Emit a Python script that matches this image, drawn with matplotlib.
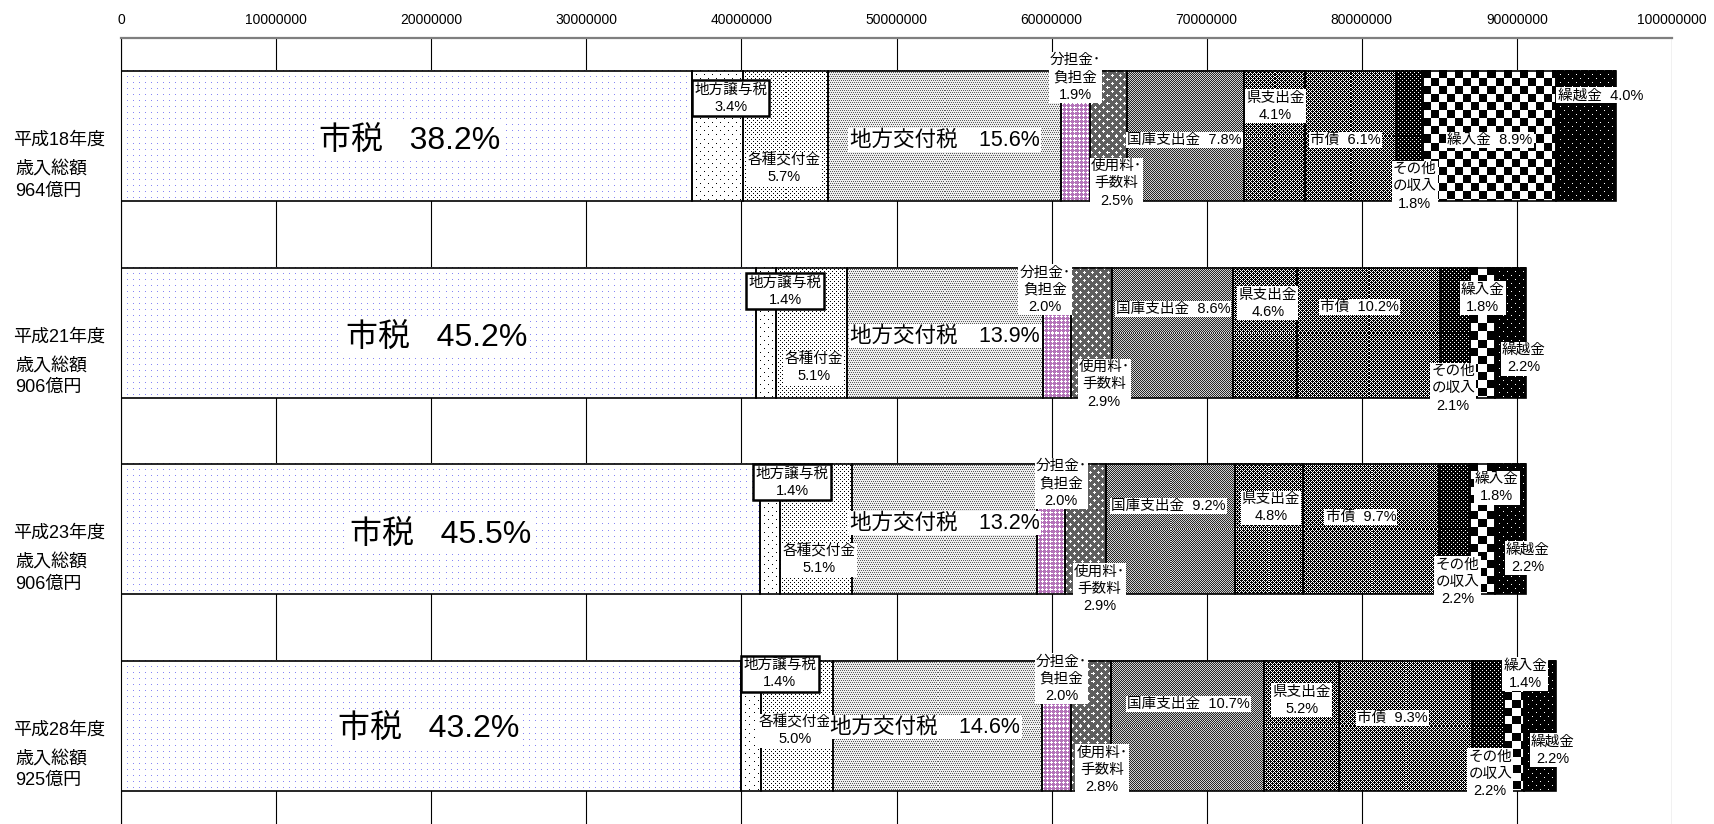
import numpy as np
import matplotlib
matplotlib.use("Agg")
import matplotlib.pyplot as plt
from matplotlib.ticker import FixedLocator, FuncFormatter

plt.rcParams['font.family'] = ['Liberation Sans', 'Noto Sans CJK JP', 'DejaVu Sans']

# ---------------- data (thousand yen) ----------------
years = ['平成18年度', '平成21年度', '平成23年度', '平成28年度']
totals_label = ['964億円', '906億円', '906億円', '925億円']
categories = ['市税', '地方譲与税', '各種交付金', '地方交付税', '分担金･負担金', '使用料･手数料',
              '国庫支出金', '県支出金', '市債', 'その他の収入', '繰入金', '繰越金']

vals_h18 = [36825000, 3278000, 5495000, 15038000, 1832000, 2410000,
            7519000, 3952000, 5880000, 1735000, 8580000, 3856000]
vals_h21 = [40951000, 1268000, 4621000, 12593000, 1812000, 2627000,
            7792000, 4168000, 9241000, 1903000, 1631000, 1993000]
vals_h23 = [41223000, 1268000, 4621000, 11959000, 1812000, 2627000,
            8335000, 4349000, 8788000, 1993000, 1631000, 1993000]
vals_h28 = [39960000, 1295000, 4625000, 13505000, 1850000, 2590000,
            9898000, 4810000, 8603000, 2035000, 1295000, 2035000]

pct_h18 = ['38.2%', '3.4%', '5.7%', '15.6%', '1.9%', '2.5%', '7.8%', '4.1%', '6.1%', '1.8%', '8.9%', '4.0%']
pct_h21 = ['45.2%', '1.4%', '5.1%', '13.9%', '2.0%', '2.9%', '8.6%', '4.6%', '10.2%', '2.1%', '1.8%', '2.2%']
pct_h23 = ['45.5%', '1.4%', '5.1%', '13.2%', '2.0%', '2.9%', '9.2%', '4.8%', '9.7%', '2.2%', '1.8%', '2.2%']
pct_h28 = ['43.2%', '1.4%', '5.0%', '14.6%', '2.0%', '2.8%', '10.7%', '5.2%', '9.3%', '2.2%', '1.4%', '2.2%']

xticks = [0, 10000000, 20000000, 30000000, 40000000, 50000000,
          60000000, 70000000, 80000000, 90000000, 100000000]

values = [vals_h18, vals_h21, vals_h23, vals_h28]
pcts = [pct_h18, pct_h21, pct_h23, pct_h28]

# ---------------- label templates / layout ----------------
IS = '\u3000'
fmt_common = ['市税   {}', '地方譲与税\n{}', '各種交付金\n{}', '地方交付税' + IS + '{}',
              '分担金･\n負担金\n{}', '使用料･\n手数料\n{}', '国庫支出金  {}', '県支出金\n{}',
              '市債  {}', 'その他\nの収入\n{}', '繰入金\n{}', '繰越金\n{}']
fmts = [list(fmt_common), list(fmt_common), list(fmt_common), list(fmt_common)]
fmts[0][10] = '繰入金  {}'
fmts[0][11] = '繰越金  {}'
fmts[1][2] = '各種付金\n{}'

styles = ['big', 'box', 'small', 'mid', 'small', 'small', 'small', 'small', 'small', 'small', 'small', 'small']

offsets = [
    [(3, -1), (13, 42), (-2, -28.5), (0, 0), (0, 63), (8, -43), (-1, 0), (1, 34), (-5, 0), (5, -46), (0, 0), (14, 45)],
    [(-2, -1.5), (19, 45.5), (2, -31), (0, 1), (-12, 47), (13, -47.5), (1, 27.5), (3, 33.5), (-9, 29.5), (-2, -51.5), (0, 38.5), (13, -22)],
    [(0, -1.5), (22, 51), (3, -26.5), (0, 10.5), (10, 50), (14, -55.5), (-2, 27.5), (2, 25.5), (-10, 16.5), (3, -48.5), (14, 45.5), (17, -25)],
    [(-2, 1), (29, 56), (-2, -1), (-12, 3), (5, 51), (11, -40), (1, 26), (0, 29.5), (-13, 12), (2, -44), (11, 55.5), (13, -20.5)],
]
TEXT_SHIFT = -4  # pixels, compensates descent in vertical centring


# ---------------- pattern tiles ----------------
def make_tile(rows, fg, bg):
    t = np.zeros((len(rows), len(rows[0]), 3), dtype=np.uint8)
    for r, line in enumerate(rows):
        for c, ch in enumerate(line):
            t[r, c] = fg if ch == '#' else bg
    return t


W = (255, 255, 255)
K = (0, 0, 0)
tiles = [
    make_tile(['#.....', '......', '......', '......', '......', '......'], (135, 135, 245), W),
    make_tile(['#.......', '........', '........', '........', '....#...', '........', '........', '........'], K, W),
    make_tile(['#...', '....', '..#.', '....'], K, W),
    make_tile(['#.#.', '....', '.#.#', '....'], (90, 90, 90), (238, 238, 238)),
    make_tile(['.#..', '###.', '.#..', '....'], W, (180, 115, 185)),
    make_tile(['.#......', '###.....', '.#......', '........', '.....#..', '....###.', '.....#..', '........'], W, (95, 95, 95)),
    make_tile(['#.', '.#'], (40, 40, 40), (210, 210, 210)),
    make_tile(['#...', '.#.#', '..#.', '.#.#'], W, K),
    make_tile(['#.#.', '.#..', '#.#.', '...#'], W, K),
    make_tile(['#...', '....', '..#.', '....'], W, K),
    make_tile(['########........'] * 8 + ['........########'] * 8, K, W),
    make_tile(['#.......', '........', '........', '........', '....#...', '........', '........', '........'], W, K),
]


def texture(tile, w_px, h_px):
    ry = h_px // tile.shape[0] + 1
    rx = w_px // tile.shape[1] + 1
    return np.tile(tile, (ry, rx, 1))[:h_px, :w_px]


# ---------------- figure ----------------
FW, FH, DPI = 1715, 824, 100
fig = plt.figure(figsize=(FW / DPI, FH / DPI), dpi=DPI)
ax = fig.add_axes([121 / FW, 0, 1551 / FW, 1 - 38 / FH])
XMAX = xticks[-1]
ax.set_xlim(0, XMAX)
ax.set_ylim(3.5, -0.5)
ax.set_autoscale_on(False)

bbox = ax.get_window_extent()
px_per_x = bbox.width / XMAX
px_per_y = bbox.height / 4.0
bar_h = 0.662

fonts = {'big': 23, 'mid': 15.5, 'small': 10.5, 'box': 10.5}

for r, (vals, pc) in enumerate(zip(values, pcts)):
    lefts = np.concatenate([[0], np.cumsum(vals)[:-1]])
    for j, (l, v) in enumerate(zip(lefts, vals)):
        wpx = int(round(v * px_per_x))
        hpx = int(round(bar_h * px_per_y))
        img = texture(tiles[j], wpx, hpx)
        ax.imshow(img, extent=[l, l + v, r + bar_h / 2, r - bar_h / 2],
                  aspect='auto', interpolation='nearest', zorder=2)
    ax.barh([r] * len(vals), vals, left=lefts, height=bar_h, fill=False,
            edgecolor='black', linewidth=1.2, zorder=3)

    for j, (l, v) in enumerate(zip(lefts, vals)):
        txt = fmts[r][j].format(pc[j])
        st = styles[j]
        dx, dy = offsets[r][j]
        if st == 'box':
            bb = dict(boxstyle='square,pad=0.15', fc='white', ec='black', lw=1.8)
        else:
            bb = dict(boxstyle='square,pad=0.08', fc='white', ec='none')
        ax.annotate(txt, xy=(l + v / 2, r), xytext=(dx, dy + TEXT_SHIFT), textcoords='offset pixels',
                    ha='center', va='center', multialignment='center',
                    fontsize=fonts[st], linespacing=1.3, bbox=bb, zorder=5)

    # row labels at left
    for txt, ox, oy in [(years[r], -108, 0), ('歳入総額', -106, -30), (totals_label[r], -106, -51)]:
        ax.annotate(txt, xy=(0, r), xytext=(ox, oy + TEXT_SHIFT), textcoords='offset pixels',
                    ha='left', va='center', fontsize=13, annotation_clip=False)

ax.xaxis.set_major_locator(FixedLocator(xticks))
ax.xaxis.set_major_formatter(FuncFormatter(lambda x, p: f"{int(round(x))}"))
ax.xaxis.tick_top()
ax.tick_params(axis='x', length=0, pad=8.0, labelsize=10)
ax.set_yticks([])
ax.grid(axis='x', color='black', linewidth=0.8)
ax.set_axisbelow(True)
for s in ['right', 'bottom']:
    ax.spines[s].set_visible(False)
ax.spines['top'].set_color('#7f7f7f')
ax.spines['top'].set_linewidth(1.6)
ax.spines['left'].set_color('black')
ax.spines['left'].set_linewidth(0.8)

fig.savefig('out.png', dpi=DPI)
